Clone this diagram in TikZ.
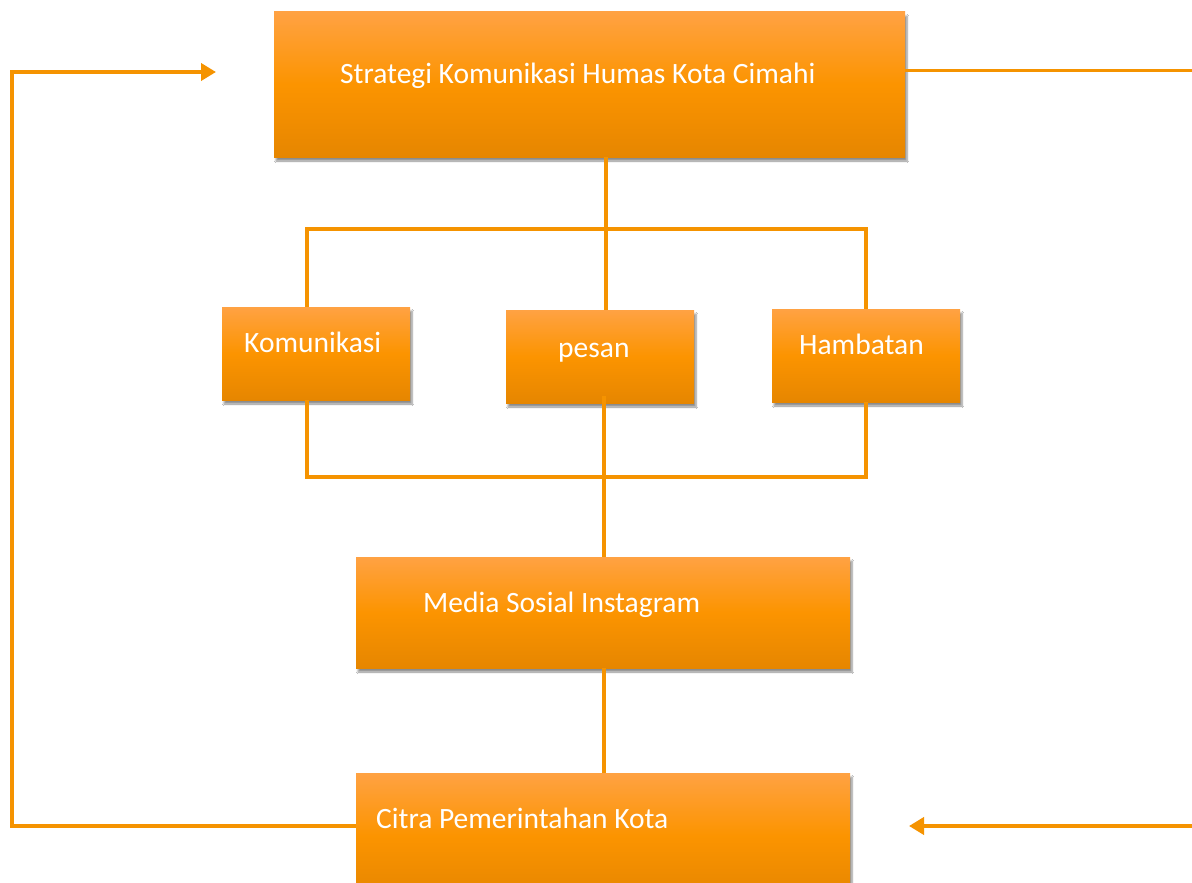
\documentclass[tikz,border=0pt]{standalone}
\usepackage{fontspec}
\setmainfont{Carlito}
\usetikzlibrary{arrows.meta,shadows.blur}
\definecolor{otop}{HTML}{FFA243}
\definecolor{omid}{HTML}{FC9400}
\definecolor{obot}{HTML}{E68600}
\definecolor{oline}{HTML}{F59300}
\tikzset{
  box/.style={draw=none, top color=otop, bottom color=obot, middle color=omid, inner sep=0pt,
    blur shadow={shadow xshift=2pt, shadow yshift=-4pt, shadow blur steps=6, shadow opacity=45}},
  txt/.style={text=white, font=\fontsize{29.5}{34}\selectfont, inner sep=0pt, anchor=base west},
  conn/.style={draw=oline, line width=3.8pt},
  arr/.style={conn, -{Triangle[length=15pt,width=17pt]}}
}
\begin{document}
\begin{tikzpicture}[x=1pt,y=-1pt]
\useasboundingbox[fill=white] (0,0) rectangle (1192,883);
% boxes
\node[box, minimum width=631pt, minimum height=145pt] (top) at (589.5,84.5) {};
\node[box, minimum width=188pt, minimum height=93pt] (kom) at (316,353.5) {};
\node[box, minimum width=188pt, minimum height=93pt] (pes) at (600,356.5) {};
\node[box, minimum width=188pt, minimum height=93pt] (ham) at (866,355.5) {};
\node[box, minimum width=494pt, minimum height=111pt] (med) at (603,612.5) {};
\node[box, minimum width=494pt, minimum height=125pt] (cit) at (603,835.5) {};
% texts
\node[txt] (toptxt) at (340,84) {Strategi Komunikasi Humas Kota Cimahi};
\node[txt] (komtxt) at (244,352) {Komunikasi};
\node[txt] (pestxt) at (558,357) {pesan};
\node[txt] (hamtxt) at (799,354) {Hambatan};
\node[txt] (medtxt) at (423,612) {Media Sosial Instagram};
\node[txt] (cittxt) at (376,828) {Citra Pemerintahan Kota};
% coordinates
\coordinate (bt) at (606,229);
\coordinate (bb) at (604,477);
\coordinate (lb) at (12,826);
\coordinate (lt) at (12,72);
\coordinate (la) at (216,72);
\coordinate (rt) at (1192,71);
\coordinate (rb) at (1192,826);
\coordinate (ra) at (909,826);
% connectors
\draw[conn] (top.south -| bt) -- (bt |- pes.north);
\draw[conn] (kom.north -| 307,0) -- (307,229) -- (866,229) -- (ham.north);
\draw[conn] (kom.south -| 307,0) -- (307,477) -- (866,477) -- (ham.south);
\draw[conn] (604,396) -- (med.north -| bb);
\draw[conn] (med.south -| bb) -- (cit.north -| bb);
\draw[arr, line join=miter] (lb -| cit.west) -- (lb) -- (lt) -- (la);
\draw[conn, line width=3pt] (top.east |- rt) -- (rt);
\draw[arr] (rb) -- (ra);
\end{tikzpicture}
\end{document}
